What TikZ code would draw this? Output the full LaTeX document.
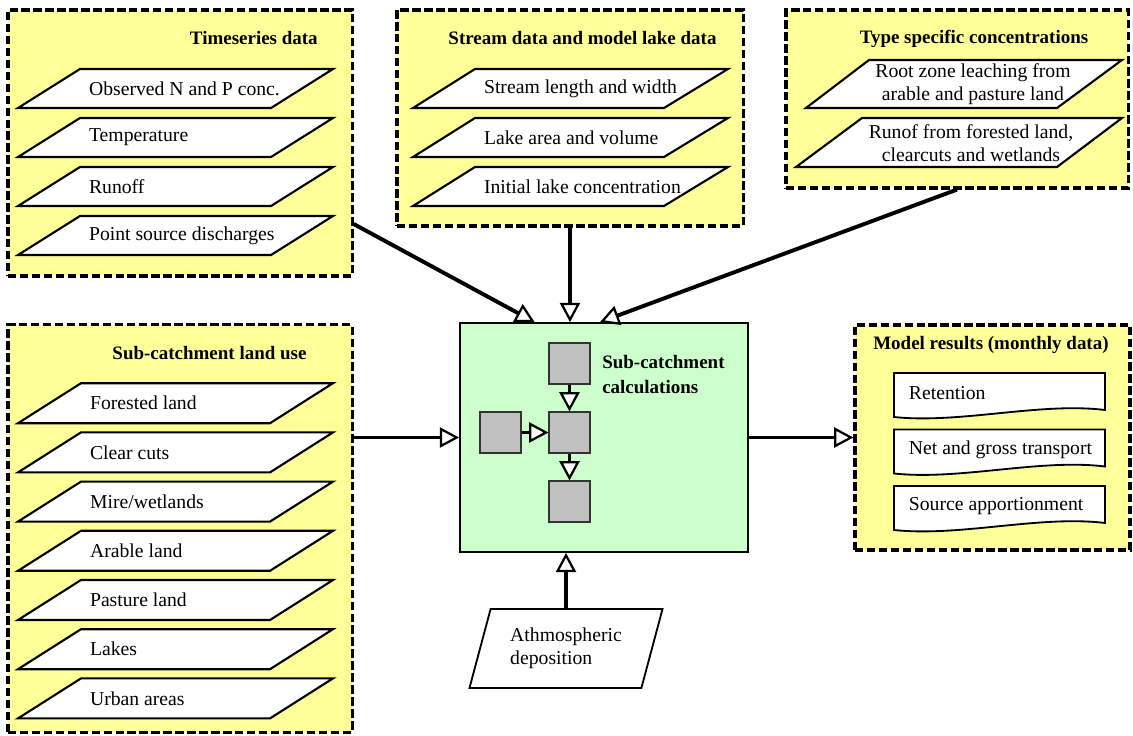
\documentclass[tikz,border=0pt]{standalone}
\usepackage{fontspec}
\setmainfont{Liberation Serif}
\usetikzlibrary{arrows.meta,shapes.geometric}

\definecolor{panelyellow}{HTML}{FFFF99}
\definecolor{calcgreen}{HTML}{CCFFCC}
\definecolor{cellgray}{HTML}{C0C0C0}

\tikzset{
    panel/.style={draw, fill=panelyellow, line width=2.2pt, dash pattern=on 6pt off 2.5pt, inner sep=0pt},
    slab/.style={draw, fill=white, line width=1.5pt},
    item/.style={inner sep=0pt, font=\fontsize{14}{16.3}\selectfont},
    title/.style={inner sep=0pt, font=\fontsize{13.5}{16.3}\selectfont\bfseries},
    flow/.style={line width=2.8pt, -{Triangle[fill=white, line width=1.6pt, length=0.48cm, width=0.5cm]}},
    cell/.style={draw=black!80, fill=cellgray, line width=0.8pt, minimum size=1.025cm, inner sep=0pt},
}

\begin{document}
\begin{tikzpicture}[x=0.025cm, y=-0.025cm]
    \useasboundingbox (0,0) rectangle (1133,736);

    % panels
    \node[panel, minimum width=8.6cm, minimum height=6.65cm] (ts) at (180,143) {};
    \node[panel, minimum width=8.65cm, minimum height=5.4cm] (sd) at (570,118) {};
    \node[panel, minimum width=8.55cm, minimum height=4.45cm] (tc) at (957,99) {};
    \node[panel, minimum width=8.6cm, minimum height=10.175cm] (lu) at (180,528.5) {};
    \node[panel, minimum width=6.875cm, minimum height=5.625cm] (mr) at (992.5,437.5) {};
    \node[draw, fill=calcgreen, line width=1.2pt, minimum width=7.2cm, minimum height=5.725cm] (calc) at (604,437.5) {};

    \node[title, anchor=east] (tstitle) at (318,38) {Timeseries data};
    \node[title] (sdtitle) at (582.5,38) {Stream data and model lake data};
    \node[title] (tctitle) at (974,39) {Type specific concentrations};
    \node[title] (lutitle) at (209.5,353) {Sub-catchment land use};
    \node[title, anchor=west] (mrtitle) at (873,345) {Model results (monthly data)};

    % input layers
    \foreach \txt [count=\i] in {Observed N and P conc., Temperature, Runoff, Point source discharges}
        \draw[slab] (80,20+49*\i) -- ++(253,0) -- ++(-62,39) -- ++(-253,0) -- cycle
            node[item, anchor=west] (ts\i) at (88,39.5+49*\i) {\txt};
    \foreach \txt [count=\i] in {Stream length and width, Lake area and volume, Initial lake concentration}
        \draw[slab] (475,20+49*\i) -- ++(253,0) -- ++(-64,39) -- ++(-251,0) -- cycle
            node[item, anchor=west] (sd\i) at (483,39.5+49*\i) {\txt};
    \foreach \txt [count=\i] in {Forested land, Clear cuts, Mire/wetlands, Arable land, Pasture land, Lakes, Urban areas}
        \draw[slab] (81,334+49.2*\i) -- ++(252,0) -- ++(-63,40) -- ++(-252,0) -- cycle
            node[item, anchor=west] (lu\i) at (89,354+49.2*\i) {\txt};

    \draw[slab] (869,60) -- (1122,60) -- (1057,108) -- (806,108) -- cycle;
    \node[item, align=center] (tc1) at (973,84) {Root zone leaching from\\arable and pasture land};
    \draw[slab] (862,118) -- (1122,118) -- (1057,167) -- (796,167) -- cycle;
    \node[item, align=center] (tc2) at (971,143) {Runof from forested land,\\clearcuts and wetlands};

    % results
    \foreach \txt [count=\i, evaluate=\i as \y using 316.5+56.5*\i] in {Retention, Net and gross transport, Source apportionment}
        \draw[slab, line width=1.3pt] (894,\y) -- (1105,\y) -- (1105,\y+37)
            .. controls (1040,\y+29) and (960,\y+51) .. (894,\y+44) -- cycle
            node[item, anchor=west] (mr\i) at (908,\y+20) {\txt};

    % calculation cells
    \node[cell] (q1) at (569.5,363.5) {};
    \node[cell] (q2) at (569.5,432.5) {};
    \node[cell] (q3) at (569.5,501.5) {};
    \node[cell] (q0) at (500.5,432.5) {};
    \node[title, align=left, anchor=west, font=\fontsize{13.5}{17.5}\selectfont\bfseries] (calctitle) at (602,374.5) {Sub-catchment\\calculations};

    \node[draw, trapezium, trapezium left angle=62.6, trapezium right angle=117.4, trapezium stretches body,
          minimum height=1.975cm, minimum width=4.825cm, line width=1.3pt, item, align=left] (ad) at (566,648.5) {Athmospheric\\deposition};

    % connectors
    \draw[flow] (q1) -- (q2);
    \draw[flow] (q2) -- (q3);
    \draw[flow] (q0) -- (q2);
    \draw[flow] (ts.-25.8) -- (calc.121);
    \draw[flow] (sd.south) -- (sd.south |- calc.north);
    \draw[flow] (tc.south) -- (calc.92);
    \draw[flow] (lu.east |- calc.west) -- (calc.west);
    \draw[flow] (calc.east) -- (calc.east -| mr.west);
    \draw[flow] (ad.north) -- (ad.north |- calc.south);
\end{tikzpicture}
\end{document}
